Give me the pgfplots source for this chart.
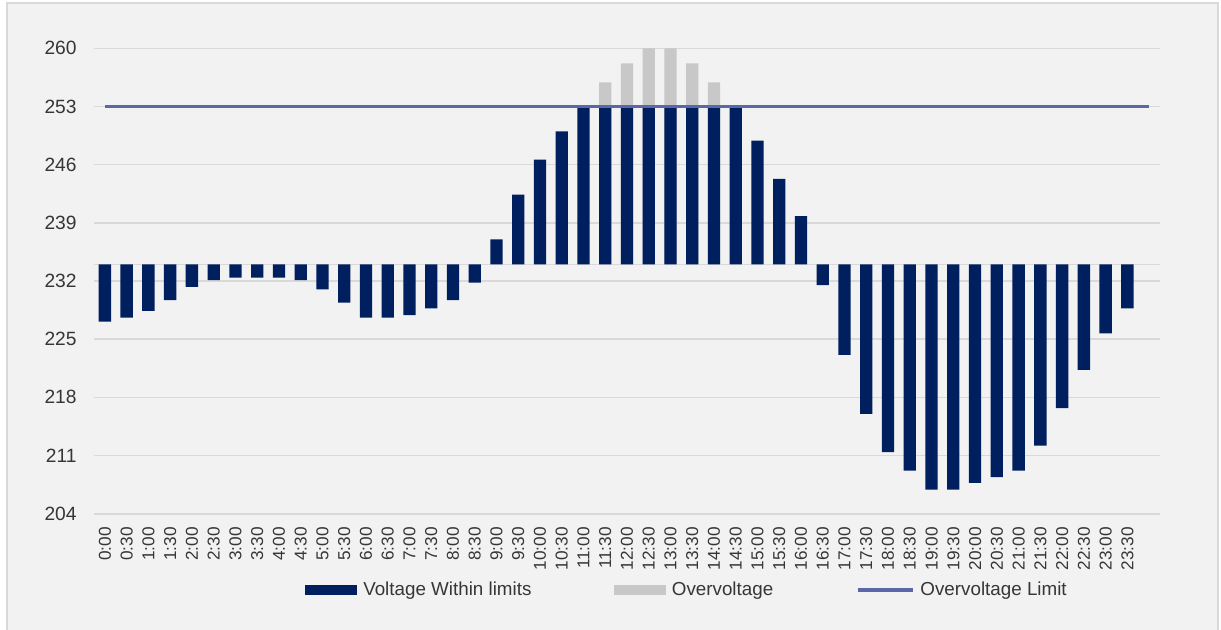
\documentclass[border=0pt]{standalone}
\usepackage{pgfplots}
\usepackage{pgfplotstable}
\pgfplotsset{compat=1.18}
\usepackage{fontspec}
\setmainfont{Liberation Sans}
\definecolor{navy}{HTML}{001F5F}
\definecolor{overg}{HTML}{C8C8C8}
\definecolor{limitc}{HTML}{5B67A6}
\definecolor{gridc}{HTML}{D9D9D9}
\definecolor{bgc}{HTML}{F2F2F2}
\definecolor{txt}{HTML}{363636}

\pgfplotstableread{
i within
0 227.1
1 227.6
2 228.4
3 229.7
4 231.3
5 232.1
6 232.4
7 232.4
8 232.4
9 232.1
10 231.0
11 229.4
12 227.6
13 227.6
14 227.9
15 228.7
16 229.7
17 231.8
18 237.0
19 242.4
20 246.6
21 250.0
22 253.0
23 253.0
24 253.0
25 253.0
26 253.0
27 253.0
28 253.0
29 253.0
30 248.9
31 244.3
32 239.8
33 231.5
34 223.1
35 216.0
36 211.4
37 209.2
38 206.9
39 206.9
40 207.7
41 208.4
42 209.2
43 212.2
44 216.7
45 221.3
46 225.7
47 228.7
}\withintable

\pgfplotstableread{
i over
23 255.9
24 258.2
25 260.0
26 260.0
27 258.2
28 255.9
}\overtable

\pgfplotstableread{
i limit
0 253
48 253
}\limittable

\begin{document}
\begin{tikzpicture}
\useasboundingbox (0,0) rectangle (610.5pt,-314.5pt);
\fill[white] (0,0) rectangle (610.5pt,-314.5pt);
\filldraw[fill=bgc, draw=gridc, line width=1pt] (3.5pt,-1.5pt) rectangle (608.8pt,-330pt);
\begin{axis}[
  at={(47pt,-256.85pt)}, anchor=south west,
  scale only axis,
  width=533pt, height=232.7pt,
  xmin=-0.5, xmax=48.5,
  ymin=-30, ymax=26,
  axis line style={draw=none},
  major tick length=0pt,
  ytick={-30,-23,-16,-9,-2,5,12,19,26},
  yticklabels={204,211,218,225,232,239,246,253,260},
  extra y ticks={0}, extra y tick labels={},
  extra y tick style={grid=major},
  ymajorgrids,
  grid style={gridc, line width=0.8pt},
  xtick={0,...,47},
  xticklabels={0:00,0:30,1:00,1:30,2:00,2:30,3:00,3:30,4:00,4:30,5:00,5:30,6:00,6:30,7:00,7:30,8:00,8:30,9:00,9:30,10:00,10:30,11:00,11:30,12:00,12:30,13:00,13:30,14:00,14:30,15:00,15:30,16:00,16:30,17:00,17:30,18:00,18:30,19:00,19:30,20:00,20:30,21:00,21:30,22:00,22:30,23:00,23:30},
  xticklabel style={rotate=90, anchor=east, inner sep=0pt, font=\fontsize{8.6}{10}\selectfont, text=txt},
  xticklabel shift=6.5pt,
  yticklabel style={anchor=east, inner sep=0pt, font=\fontsize{9.6}{10}\selectfont, text=txt},
  yticklabel shift=8.5pt,
  clip=false,
  legend style={draw=none, fill=none, at={(axis description cs:0.198,-0.164)}, anchor=west,
    inner sep=0pt, font=\fontsize{9.4}{10}\selectfont, text=txt,
    nodes={inner sep=0pt},
    /tikz/every odd column/.append style={column sep=3pt},
    /tikz/every even column/.append style={column sep=41.3pt}},
  legend columns=3,
  legend cell align=left,
]
\addlegendimage{legend image code/.code={\fill[navy] (0pt,-2.25pt) rectangle (25.5pt,2.25pt);}}
\addlegendentry{Voltage Within limits}
\addlegendimage{legend image code/.code={\fill[overg] (0pt,-2.25pt) rectangle (25.5pt,2.25pt);}}
\addlegendentry{Overvoltage}
\addlegendimage{legend image code/.code={\draw[limitc, line width=1.8pt] (0pt,0pt) -- (27.5pt,0pt);}}
\addlegendentry{Overvoltage Limit}

\addplot[ybar, bar width=6.15pt, bar shift=0pt, fill=overg, draw=none, forget plot]
  table[x=i, y expr=\thisrow{over}-234] {\overtable};
\addplot[ybar, bar width=6.15pt, bar shift=0pt, fill=navy, draw=none, forget plot]
  table[x=i, y expr=\thisrow{within}-234] {\withintable};
\addplot[limitc, line width=1.6pt, forget plot]
  table[x=i, y expr=\thisrow{limit}-234] {\limittable};
\end{axis}
\end{tikzpicture}
\end{document}
